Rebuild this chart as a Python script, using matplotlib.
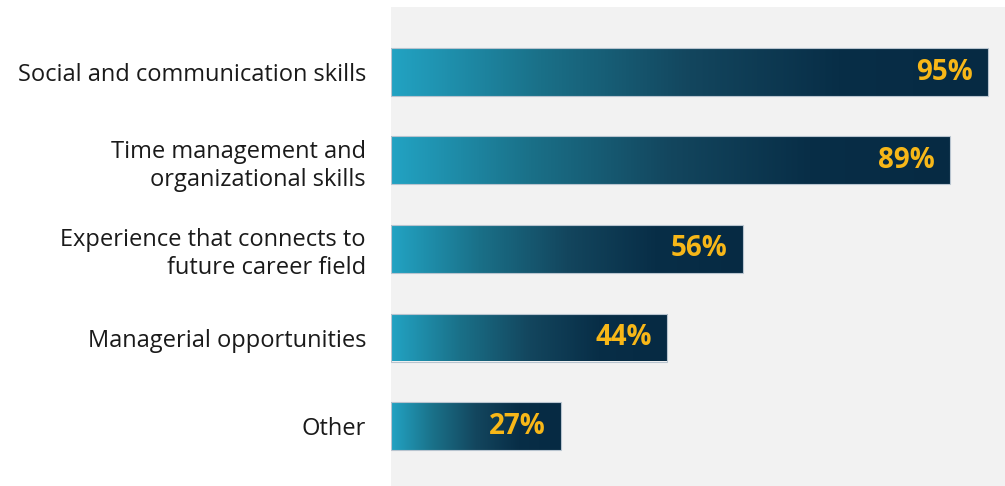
import matplotlib.pyplot as plt
from matplotlib.colors import LinearSegmentedColormap
from matplotlib.patches import Rectangle
import numpy as np

categories = [
    'Social and communication skills',
    'Time management and\norganizational skills',
    'Experience that connects to\nfuture career field',
    'Managerial opportunities',
    'Other',
]
values = [95, 89, 56, 44, 27]
value_labels = ['95%', '89%', '56%', '44%', '27%']

plt.rcParams['font.family'] = ['Open Sans', 'DejaVu Sans']

cmap = LinearSegmentedColormap.from_list(
    'bar', ['#22a3c3', '#1a7088', '#13465e', '#082e47', '#062a43'])

fig = plt.figure(figsize=(10.05, 4.86), dpi=100)
ax = fig.add_axes([391 / 1005, 0, 1 - 391 / 1005, 1 - 7 / 486])
ax.set_facecolor('#f2f2f2')

bar_h = 48 / 88.5
grad = np.linspace(0, 1, 256).reshape(1, -1)
for i, (v, lab) in enumerate(zip(values, value_labels)):
    y0 = i - bar_h / 2
    rect = Rectangle((0, y0), v, bar_h, facecolor='none',
                     edgecolor='#b8c4cf', linewidth=0.8, zorder=3)
    ax.add_patch(rect)
    im = ax.imshow(grad, cmap=cmap, aspect='auto',
                   extent=(0, v, i + bar_h / 2, y0), zorder=2)
    im.set_clip_path(rect)
    ax.text(v - 2.4, i, lab, ha='right', va='center', color='#f7b718',
            fontsize=20, fontweight='bold', zorder=4)

ax.set_xlim(0, (1005 - 391) / 6.28)
ax.set_ylim(4 + 60 / 88.5, -65 / 88.5)
ax.set_yticks(range(len(categories)))
ax.set_yticklabels(categories, fontsize=17, color='#1a1a1a',
                   linespacing=1.25)
ax.tick_params(axis='y', length=0, pad=18)
ax.set_xticks([])
for s in ax.spines.values():
    s.set_visible(False)

fig.savefig('out.png', dpi=100, facecolor='white')
